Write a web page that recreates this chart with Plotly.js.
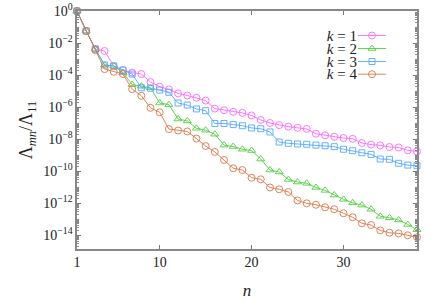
<!DOCTYPE html>
<html><head><meta charset="utf-8">
<script src="https://cdn.plot.ly/plotly-3.0.1.min.js"></script>
<style>html,body{margin:0;padding:0;background:#fff}</style>
</head><body><div id="chart" style="width:436px;height:302px"></div>
<script>
const nValues = [1,2,3,4,5,6,7,8,9,10,11,12,13,14,15,16,17,18,19,20,21,22,23,24,25,26,27,28,29,30,31,32,33,34,35,36,37,38];
// log10 of Lambda_mn / Lambda_11
const log10K1 = [0,-1.25,-2.375,-2.5,-3.44,-3.7,-3.85,-3.94,-4.44,-4.73,-4.9,-5.15,-5.28,-5.42,-5.6,-6.1,-6.2,-6.3,-6.37,-6.53,-6.81,-7.0,-7.13,-7.23,-7.3,-7.37,-7.67,-7.77,-7.86,-7.94,-7.99,-8.25,-8.35,-8.4,-8.5,-8.53,-8.71,-8.78];
const log10K2 = [0,-1.25,-2.375,-3.375,-3.44,-3.85,-4.6,-4.7,-4.8,-5.75,-5.85,-6.75,-6.87,-7.33,-7.45,-7.7,-8.38,-8.47,-8.64,-8.72,-9.25,-9.94,-10.06,-10.53,-10.69,-10.77,-11.03,-11.21,-11.5,-11.77,-11.99,-12.13,-12.39,-12.83,-12.92,-13.06,-13.34,-13.67];
const log10K3 = [0,-1.25,-2.375,-3.375,-3.44,-3.69,-3.94,-4.8,-4.83,-4.94,-5.08,-5.75,-5.88,-6.12,-6.23,-7.03,-7.03,-7.1,-7.17,-7.31,-7.36,-7.56,-8.19,-8.27,-8.31,-8.33,-8.38,-8.42,-8.48,-8.64,-8.73,-8.86,-8.96,-9.25,-9.27,-9.52,-9.63,-9.67];
const log10K4 = [0,-1.25,-2.45,-3.63,-3.8,-3.94,-4.88,-5.3,-6.05,-6.33,-7.38,-7.47,-7.53,-7.97,-8.44,-8.81,-9.31,-9.83,-9.94,-10.42,-10.52,-11.03,-11.14,-11.31,-11.84,-12.02,-12.11,-12.27,-12.39,-12.64,-12.89,-13.27,-13.375,-13.71,-13.86,-13.9,-14.02,-14.14];
const seriesNames = ["k = 1","k = 2","k = 3","k = 4"];
const legendLabels = ["<i>k</i> = 1","<i>k</i> = 2","<i>k</i> = 3","<i>k</i> = 4"];
const yTickVals = [1,1e-2,1e-4,1e-6,1e-8,1e-10,1e-12,1e-14];
const yTickText = ["10<sup>0</sup>","10<sup>−2</sup>","10<sup>−4</sup>","10<sup>−6</sup>","10<sup>−8</sup>","10<sup>−10</sup>","10<sup>−12</sup>","10<sup>−14</sup>"];
const xTickVals = [1,10,20,30];

const colors = ["#ff66ff","#55cc44","#55a8ff","#d9774a"];
const symbols = ["circle-open","triangle-up-open","square-open","circle-open"];
const sizes = [7,7,6,7];
const allLogs = [log10K1,log10K2,log10K3,log10K4];
const toValues = a => a.map(e => Math.pow(10, e));

const traces = [];
allLogs.forEach((lg,i) => {
  traces.push({
    x: nValues, y: toValues(lg), type:'scatter', mode:'lines+markers', name: seriesNames[i],
    line:{color:colors[i], width:0.9},
    marker:{symbol:symbols[i], size:sizes[i], color:colors[i], line:{width:0.9, color:colors[i]}},
    cliponaxis:false, showlegend:false
  });
});
// legend samples drawn in an overlay frame whose units are plot pixels
const legRowY = [35.5,48.5,61.5,74.2];
const legX0 = 358, legX1 = 386, legXm = 372;
legRowY.forEach((yy,i) => {
  traces.push({x:[legX0,legX1], y:[yy,yy], xaxis:'x2', yaxis:'y2', mode:'lines', line:{color:colors[i], width:0.9}, showlegend:false, hoverinfo:'skip'});
  traces.push({x:[legXm], y:[yy], xaxis:'x2', yaxis:'y2', mode:'markers', marker:{symbol:symbols[i], size:sizes[i], color:colors[i], line:{width:0.9,color:colors[i]}}, showlegend:false, hoverinfo:'skip'});
});
const font = "Liberation Serif";

const layout = {
  width:436, height:302,
  margin:{l:77, r:19, t:11, b:53},
  paper_bgcolor:'#fff', plot_bgcolor:'#fff',
  showlegend:false,
  font:{family:font, size:12, color:'#222'},
  xaxis:{range:[1,38], tickvals:xTickVals, ticks:'inside', ticklen:4, tickcolor:'#777', tickwidth:1,
    showline:true, linecolor:'#888', linewidth:1.6, mirror:'ticks', showgrid:false, zeroline:false,
    tickfont:{family:font, size:14}, title:{text:'<i>n</i>', font:{family:font, size:17}, standoff:14}},
  yaxis:{type:'log', range:[-14.875,0], tickvals:yTickVals, ticktext:yTickText, ticks:'inside', ticklen:4, tickcolor:'#777', tickwidth:1,
    showline:true, linecolor:'#888', linewidth:1.6, mirror:'ticks', showgrid:false, zeroline:false,
    minor:{ticks:'inside', ticklen:2, tickcolor:'#888', dtick:'D1'},
    tickfont:{family:font, size:14}, title:{text:'Λ<sub><i>mn</i></sub>/Λ<sub>11</sub>', font:{family:font, size:18}, standoff:6}},
  xaxis2:{range:[77,417], domain:[0,1], overlaying:'x', visible:false, anchor:'y2'},
  yaxis2:{range:[249,11], domain:[0,1], overlaying:'y', visible:false, anchor:'x2'},
  yaxis3:{range:[249,11], domain:[0,1], overlaying:'y', anchor:'free', position:(357-77)/340, side:'left',
    showline:false, showgrid:false, zeroline:false, ticks:'', tickvals:legRowY, ticktext:legendLabels,
    tickfont:{family:font, size:15, color:'#222'}}
};
// invisible trace so the legend-label axis is drawn
traces.push({x:[1], y:[100], xaxis:'x', yaxis:'y3', mode:'markers', marker:{opacity:0}, showlegend:false, hoverinfo:'skip'});
Plotly.newPlot('chart', traces, layout, {staticPlot:true, displayModeBar:false});
</script></body></html>
